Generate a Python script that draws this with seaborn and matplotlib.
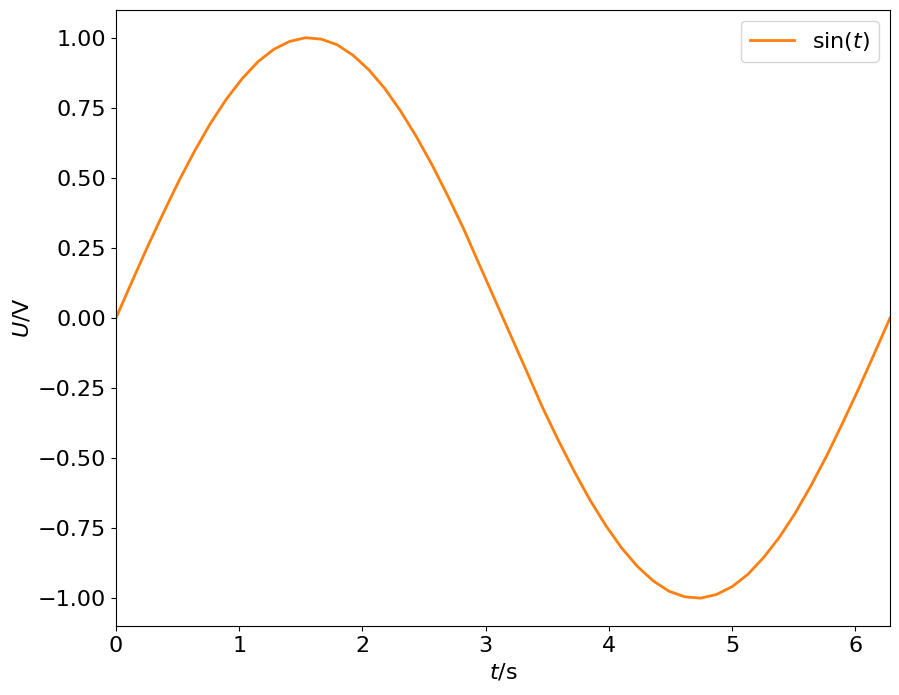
import seaborn as sns
import pandas as pd
import matplotlib.pyplot as plt

# Werte (50 Stützpunkte von 0 bis 2*pi)
t_werte = [0.000, 0.128, 0.256, 0.385, 0.513, 0.641, 0.769, 0.898, 1.026, 1.154,
           1.282, 1.410, 1.539, 1.667, 1.795, 1.923, 2.052, 2.180, 2.308, 2.436,
           2.565, 2.693, 2.821, 2.949, 3.077, 3.206, 3.334, 3.462, 3.590, 3.719,
           3.847, 3.975, 4.103, 4.231, 4.360, 4.488, 4.616, 4.744, 4.873, 5.001,
           5.129, 5.257, 5.386, 5.514, 5.642, 5.770, 5.898, 6.027, 6.155, 6.283]
u_werte = [0.000, 0.128, 0.254, 0.375, 0.491, 0.598, 0.696, 0.782, 0.855, 0.915,
           0.959, 0.987, 1.000, 0.995, 0.975, 0.938, 0.886, 0.820, 0.740, 0.649,
           0.547, 0.436, 0.319, 0.191, 0.064, -0.064, -0.191, -0.319, -0.436, -0.547,
           -0.649, -0.740, -0.820, -0.886, -0.938, -0.975, -0.995, -1.000, -0.987, -0.959,
           -0.915, -0.855, -0.782, -0.696, -0.598, -0.491, -0.375, -0.254, -0.128, 0.000]

df = pd.DataFrame({"t": t_werte, "U": u_werte})

plt.rcParams["font.size"] = 16

fig, ax = plt.subplots(figsize=(8.99, 6.95), dpi=100)
fig.subplots_adjust(left=0.129, right=0.990, top=0.986, bottom=0.099)

sns.lineplot(data=df, x="t", y="U", ax=ax, color="C1", linewidth=2,
             sort=False, estimator=None, label=r"sin($t$)")

ax.set_xlim(0, t_werte[-1])
ax.set_ylim(-1.1, 1.1)
ax.set_xlabel(r"$t$/s")
ax.set_ylabel(r"$U$/V")
ax.legend(loc="upper right")

fig.savefig("out.png", dpi=100)
